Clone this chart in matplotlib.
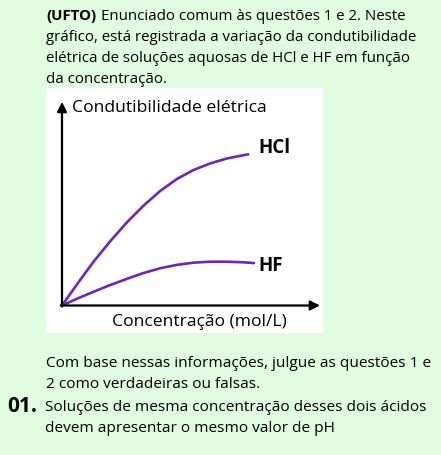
import matplotlib
matplotlib.use("Agg")
import matplotlib.pyplot as plt

# curve data (arbitrary units)
conc_hcl = [0, 0.59, 1.25, 1.92, 2.59, 3.25, 3.92, 4.59, 5.25, 5.92, 6.59, 7.45]
cond_hcl = [0, 1.04, 2.17, 3.20, 4.15, 4.98, 5.72, 6.32, 6.77, 7.10, 7.35, 7.56]
conc_hf = [0, 0.66, 1.25, 1.92, 2.59, 3.25, 3.92, 4.59, 5.25, 5.92, 6.59, 7.25, 7.68]
cond_hf = [0, 0.37, 0.68, 1.02, 1.33, 1.62, 1.86, 2.03, 2.14, 2.19, 2.19, 2.16, 2.12]

W, H = 441, 455
BG = "#e1fde1"
PURPLE = "#6f23c0"
FONT = "Open Sans"

fig = plt.figure(figsize=(W / 100, H / 100), dpi=100, facecolor=BG)


def px(x, y):
    return x / W, 1 - y / H


def put(x, y, s, **kw):
    fx, fy = px(x, y)
    fig.text(fx, fy, s, family=FONT, va="baseline", ha="left", **kw)


# header text
put(46, 20, "(UFTO)", fontsize=10.8, weight="bold")
put(101, 20, "Enunciado comum às questões 1 e 2. Neste", fontsize=10.8)
put(46, 41.1, "gráfico, está registrada a variação da condutibilidade", fontsize=10.8)
put(46, 62.2, "elétrica de soluções aquosas de HCl e HF em função", fontsize=10.8)
put(46, 83.3, "da concentração.", fontsize=10.8)

# chart box
ax = fig.add_axes([46 / W, 1 - 333 / H, 277 / W, 245 / H])
ax.set_facecolor("white")
for s in ax.spines.values():
    s.set_visible(False)
ax.set_xticks([])
ax.set_yticks([])
ax.set_xlim(-0.64, 10.44)
ax.set_ylim(-1.375, 10.875)

ax.plot(conc_hcl, cond_hcl, color=PURPLE, lw=1.9, solid_capstyle="round",
        solid_joinstyle="round")
ax.plot(conc_hf, cond_hf, color=PURPLE, lw=1.9, solid_capstyle="round",
        solid_joinstyle="round")

arrow = dict(arrowstyle="-|>", color="black", lw=1.6, mutation_scale=14,
             shrinkA=0, shrinkB=0)
ax.annotate("", xy=(10.32, 0), xytext=(-0.05, 0), arrowprops=arrow)
ax.annotate("", xy=(0, 10.18), xytext=(0, -0.05), arrowprops=arrow)

ax.text(0.4, 9.69, "Condutibilidade elétrica", family=FONT, fontsize=12.6,
        va="baseline")
ax.text(2.0, -1.03, "Concentração (mol/L)", family=FONT, fontsize=12.6,
        va="baseline")
ax.text(7.84, 7.64, "HCl", family=FONT, fontsize=13.5, weight="bold",
        va="baseline")
ax.text(7.84, 1.72, "HF", family=FONT, fontsize=13.5, weight="bold",
        va="baseline")

# footer text
put(46, 367.3, "Com base nessas informações, julgue as questões 1 e", fontsize=11.1)
put(46, 388.3, "2 como verdadeiras ou falsas.", fontsize=11.1)
put(7, 411.5, "01.", fontsize=15, weight="bold")
put(45, 411, "Soluções de mesma concentração desses dois ácidos", fontsize=11.1)
put(45, 431.7, "devem apresentar o mesmo valor de pH", fontsize=11.1)

fig.savefig("out.png", dpi=100, facecolor=BG)
